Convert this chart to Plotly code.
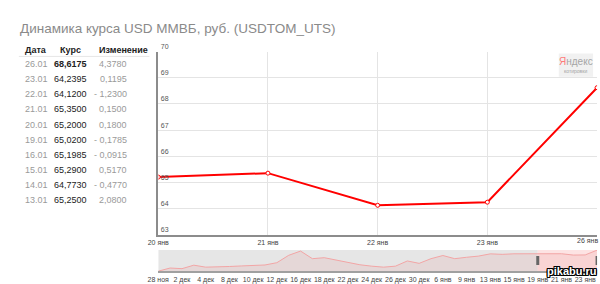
import plotly.graph_objects as go

# ---------------- data ----------------
title_text = "Динамика курса USD ММВБ, руб. (USDTOM_UTS)"
table_headers = ["Дата", "Курс", "Изменение"]
table_dates = ["26.01", "23.01", "22.01", "21.01", "20.01", "19.01", "16.01", "15.01", "14.01", "13.01"]
table_rates = ["68,6175", "64,2395", "64,1200", "65,3500", "65,2000", "65,0200", "65,1985", "65,2900", "64,7730", "65,2500"]
table_changes = ["4,3780", "0,1195", "- 1,2300", "0,1500", "0,1800", "- 0,1785", "- 0,0915", "0,5170", "- 0,4770", "2,0800"]

main_dates = ["20 янв", "21 янв", "22 янв", "23 янв", "26 янв"]
main_values = [65.20, 65.35, 64.12, 64.2395, 68.6175]
y_ticks = [63, 64, 65, 66, 67, 68, 69, 70]

nav_dates = ["28 ноя", "1 дек", "2 дек", "3 дек", "4 дек", "5 дек", "8 дек", "9 дек", "10 дек",
             "11 дек", "12 дек", "15 дек", "16 дек", "17 дек", "18 дек", "19 дек", "22 дек",
             "23 дек", "24 дек", "25 дек", "26 дек", "29 дек", "30 дек", "5 янв", "6 янв",
             "8 янв", "9 янв", "12 янв", "13 янв", "14 янв", "15 янв", "16 янв", "19 янв",
             "20 янв", "21 янв", "22 янв", "23 янв", "26 янв"]
nav_values = [49.3, 52.2, 51.6, 54.8, 53.0, 53.0, 53.6, 54.1, 54.5, 55.0, 57.1, 63.9, 67.8,
              60.8, 61.7, 59.5, 57.4, 55.2, 53.9, 53.0, 53.9, 58.7, 56.5, 60.8, 63.7, 60.8,
              62.1, 63.17, 65.25, 64.773, 65.29, 65.1985, 65.02, 65.20, 65.35, 64.12,
              64.2395, 68.6175]
nav_tick_labels = ["28 ноя", "2 дек", "4 дек", "8 дек", "10 дек", "12 дек", "16 дек", "18 дек",
                   "22 дек", "24 дек", "26 дек", "30 дек", "6 янв", "9 янв", "13 янв", "15 янв",
                   "19 янв", "21 янв", "23 янв"]
nav_selection_start = "19 янв"

W, H = 600, 284
FONT = "Liberation Sans, Arial, sans-serif"

def px(x):
    return x / W

def py(y):
    return 1 - y / H

fig = go.Figure()

# main series
fig.add_trace(go.Scatter(
    x=main_dates, y=main_values, mode="lines+markers",
    line=dict(color="#ff0000", width=2),
    marker=dict(symbol="circle", size=4, color="white", line=dict(color="#ff0000", width=1)),
    xaxis="x", yaxis="y", hoverinfo="skip", showlegend=False,
))

# navigator series
fig.add_trace(go.Scatter(
    x=nav_dates, y=nav_values, mode="lines",
    line=dict(color="#f2a5a5", width=1),
    fill="tozeroy", fillcolor="rgba(220,110,110,0.12)",
    xaxis="x2", yaxis="y2", hoverinfo="skip", showlegend=False,
))

shapes = []
annotations = []

# navigator backgrounds (unselected gray, selected pink)
sel_idx = nav_dates.index(nav_selection_start)
shapes.append(dict(type="rect", xref="x2", yref="y2 domain", x0=0, x1=sel_idx, y0=0, y1=1,
                   fillcolor="#e6e6e6", line=dict(width=0), layer="below"))
shapes.append(dict(type="rect", xref="x2", yref="y2 domain", x0=sel_idx, x1=len(nav_dates) - 1,
                   y0=0, y1=1, fillcolor="#fde3e3", line=dict(width=0), layer="below"))
# navigator handles
for hx in (sel_idx, len(nav_dates) - 1):
    shapes.append(dict(type="rect", xref="x2", yref="y2 domain", x0=hx, x1=hx, y0=0.3, y1=0.72,
                       line=dict(color="#666", width=3), layer="above"))

# Title
annotations.append(dict(text=title_text, xref="paper", yref="paper", x=px(7), y=py(21),
                        xanchor="left", yanchor="middle", showarrow=False,
                        font=dict(family=FONT, size=13.5, color="#8a8a8a")))

# Table
col_x = [12, 61, 120]
col_anchor = ["left", "center", "right"]
header_x = [12, 61, 88]
header_anchor = ["left", "center", "left"]
for i, h in enumerate(table_headers):
    annotations.append(dict(text="<b>%s</b>" % h, xref="paper", yref="paper", x=px(header_x[i]),
                            y=py(43), xanchor=header_anchor[i], yanchor="middle", showarrow=False,
                            font=dict(family=FONT, size=9, color="#222")))
shapes.append(dict(type="line", xref="paper", yref="paper", x0=px(8), x1=px(141), y0=py(50),
                   y1=py(50), line=dict(color="#e6e6e6", width=1)))
row_y0, row_step = 58, 15.6
for r in range(len(table_dates)):
    y = py(row_y0 + r * row_step)
    rate = table_rates[r] if r else "<b>%s</b>" % table_rates[r]
    vals = [table_dates[r], rate, table_changes[r]]
    colors = ["#9a9a9a", "#222", "#9a9a9a"]
    for c in range(3):
        annotations.append(dict(text=vals[c], xref="paper", yref="paper", x=px(col_x[c]), y=y,
                                xanchor=col_anchor[c], yanchor="middle", showarrow=False,
                                font=dict(family=FONT, size=9, color=colors[c])))

# last main x label sits at the right edge (cut off in the reference); keep it inside the page
annotations.append(dict(text=main_dates[-1], xref="paper", yref="paper", x=1.0, y=py(240.5),
                        xanchor="right", yanchor="middle", showarrow=False,
                        font=dict(family=FONT, size=7, color="#444")))

# Yandex badge
shapes.append(dict(type="rect", xref="paper", yref="paper", x0=px(558), x1=px(593), y0=py(71),
                   y1=py(47), fillcolor="#f1f1f1", line=dict(width=0)))
annotations.append(dict(text="<span style='color:#ff7b7b'>Я</span>ндекс", xref="paper", yref="paper",
                        x=px(575.5), y=py(55), xanchor="center", yanchor="middle", showarrow=False,
                        font=dict(family=FONT, size=10, color="#a5a5a5")))
annotations.append(dict(text="котировки", xref="paper", yref="paper",
                        x=px(575.5), y=py(65.5), xanchor="center", yanchor="middle", showarrow=False,
                        font=dict(family=FONT, size=5, color="#a5a5a5")))

# watermark
annotations.append(dict(text="<b>pikabu.ru</b>", xref="paper", yref="paper", x=px(571), y=py(272),
                        xanchor="center", yanchor="middle", showarrow=False,
                        font=dict(family=FONT, size=11, color="white",
                                  shadow="1px 1px 0 #000, -1px -1px 0 #000, 1px -1px 0 #000, -1px 1px 0 #000, 0 1px 0 #000, 1px 0 0 #000, 0 -1px 0 #000, -1px 0 0 #000")))

fig.update_layout(
    width=W, height=H, autosize=False,
    margin=dict(l=0, r=0, t=0, b=0),
    paper_bgcolor="white", plot_bgcolor="white",
    font=dict(family=FONT, size=7, color="#444"),
    xaxis=dict(domain=[px(150), px(597)], type="category", range=[0, len(main_dates) - 1],
               tickvals=main_dates[:-1], ticktext=main_dates[:-1],
               showgrid=True, gridcolor="#e4e4e4", gridwidth=1, zeroline=False,
               showline=True, linecolor="#8c8c8c", linewidth=2, ticks="",
               tickfont=dict(size=7, color="#444"), tickangle=0, fixedrange=True),
    yaxis=dict(domain=[py(234), py(45)], range=[y_ticks[0], y_ticks[-1]], tickvals=y_ticks,
               showgrid=True, gridcolor="#e4e4e4", gridwidth=1, zeroline=False,
               showline=True, linecolor="#8c8c8c", linewidth=2, ticks="",
               ticklabelposition="inside top", ticklabeloverflow="allow",
               tickfont=dict(size=7, color="#555"), anchor="x", fixedrange=True),
    xaxis2=dict(domain=[px(150), px(597)], type="category", range=[0, len(nav_dates) - 1],
                tickvals=nav_tick_labels, ticktext=nav_tick_labels, showgrid=False,
                zeroline=False, showline=True, linecolor="#a0a0a0", linewidth=2, ticks="",
                tickfont=dict(size=7, color="#444"), tickangle=0, anchor="y2", fixedrange=True),
    yaxis2=dict(domain=[py(272), py(250)], range=[min(nav_values) - 0.2, max(nav_values) + 0.1],
                showgrid=False, zeroline=False, showticklabels=False, showline=False,
                anchor="x2", fixedrange=True),
    shapes=shapes, annotations=annotations,
)

fig.write_html("out.html", include_plotlyjs=True, config={"displayModeBar": False})
